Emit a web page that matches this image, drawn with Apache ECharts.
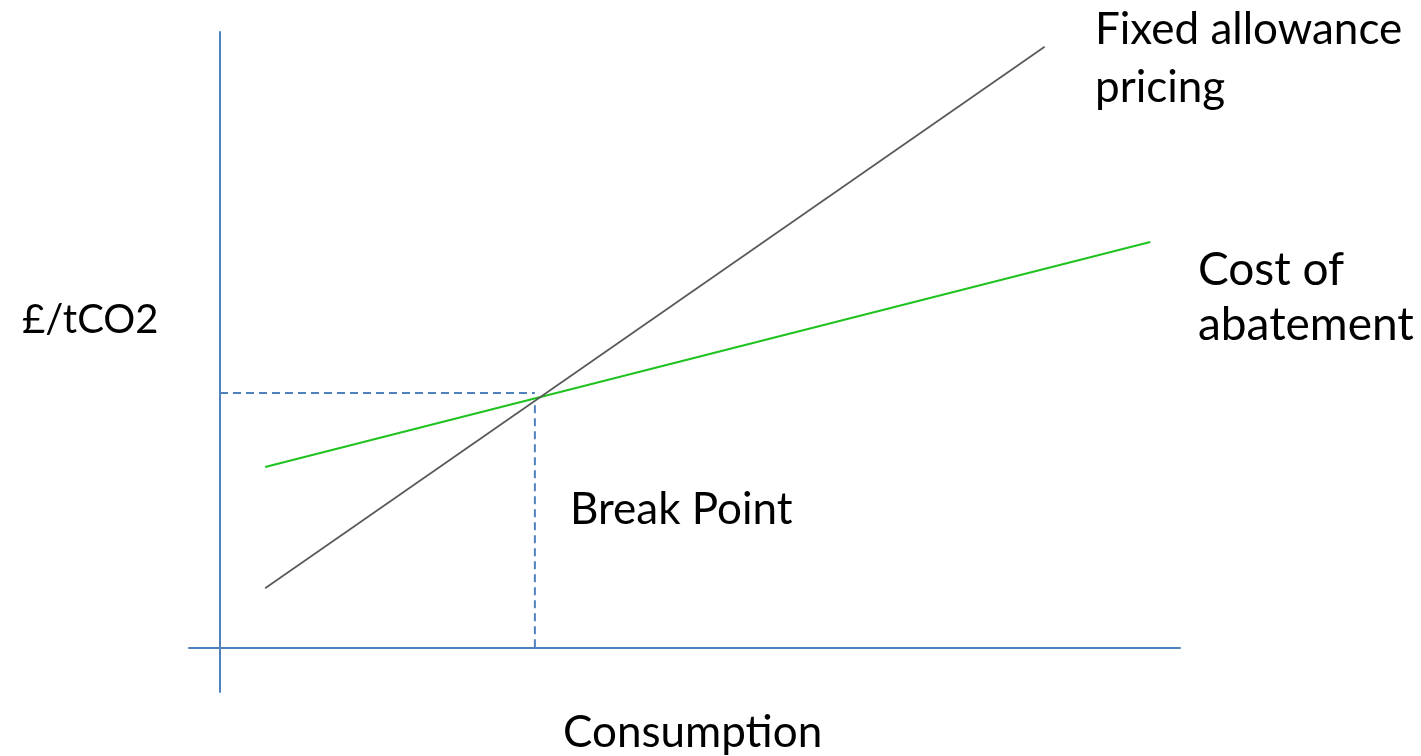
<!DOCTYPE html>
<html><head><meta charset="utf-8">
<script src="https://cdn.jsdelivr.net/npm/echarts@6/dist/echarts.min.js"></script>
<style>html,body{margin:0;padding:0;background:#fff}#c{width:1421px;height:756px}</style>
</head><body><div id="c"></div>
<script>
// Conceptual chart data (arbitrary units: consumption vs £/tCO2)
const fixedAllowance = [[4.7, 9.7], [85.9, 97.6]];
const costOfAbatement = [[4.7, 29.4], [96.9, 65.9]];
const breakPointH = [[0, 41.4], [32.8, 41.4]];
const breakPointV = [[32.8, 39.4], [32.8, 0]];
const labels = {
  fixed: ['Fixed allowance', 'pricing'],
  cost: ['Cost of', 'abatement'],
  y: '£/tCO2',
  x: 'Consumption',
  brk: 'Break Point'
};

const axisBlue = '#4F81BD';
const font = 'Lato, "Open Sans", sans-serif';
const chart = echarts.init(document.getElementById('c'));
function txt(s, x, y, size) {
  return { type: 'text', left: x, top: y - size * 0.5, style: { text: s, font: size + 'px ' + font, fill: '#000' } };
}
chart.setOption({
  animation: false,
  grid: { left: 189, right: 241, top: 32, bottom: 64 },
  xAxis: { type: 'value', min: -3.23, max: 100, axisLine: { onZero: true, lineStyle: { color: axisBlue, width: 2 } },
    axisTick: { show: false }, axisLabel: { show: false }, splitLine: { show: false } },
  yAxis: { type: 'value', min: -7.14, max: 100, axisLine: { show: true, onZero: true, lineStyle: { color: axisBlue, width: 2 } },
    axisTick: { show: false }, axisLabel: { show: false }, splitLine: { show: false } },
  series: [
    { type: 'line', data: breakPointH, symbol: 'none', lineStyle: { color: axisBlue, width: 2, type: [8, 5] } },
    { type: 'line', data: breakPointV, symbol: 'none', lineStyle: { color: axisBlue, width: 2, type: [8, 5] } },
    { type: 'line', data: costOfAbatement, symbol: 'none', lineStyle: { color: '#1FC21F', width: 2 } },
    { type: 'line', data: fixedAllowance, symbol: 'none', lineStyle: { color: '#595959', width: 1.7 } }
  ],
  graphic: [
    txt(labels.fixed[0], 1095, 30, 44), txt(labels.fixed[1], 1095, 88, 44),
    txt(labels.cost[0], 1198, 270, 46), txt(labels.cost[1], 1198, 325, 46),
    txt(labels.y, 22, 320, 40), txt(labels.brk, 570, 510, 44), txt(labels.x, 563, 733, 44)
  ]
});
</script></body></html>
